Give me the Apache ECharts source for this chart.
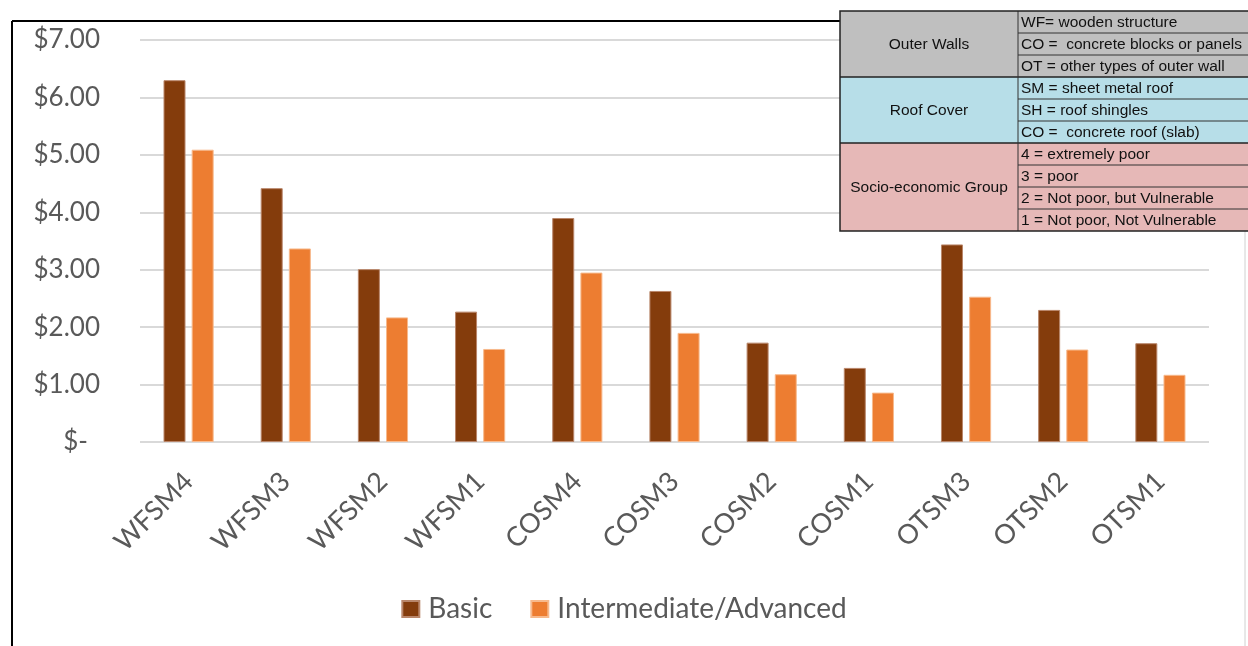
<!DOCTYPE html>
<html>
<head>
<meta charset="utf-8">
<script src="https://cdn.jsdelivr.net/npm/echarts@6/dist/echarts.min.js"></script>
<style>
  html, body { margin: 0; padding: 0; background: #ffffff; }
  #chart { width: 1248px; height: 646px; }
</style>
</head>
<body>
<div id="chart"></div>
<script>
// Categories: outer wall + roof cover + socio-economic group
const categories = ['WFSM4', 'WFSM3', 'WFSM2', 'WFSM1', 'COSM4', 'COSM3', 'COSM2', 'COSM1', 'OTSM3', 'OTSM2', 'OTSM1'];
const basicCost = [6.30, 4.42, 3.01, 2.27, 3.90, 2.63, 1.73, 1.29, 3.44, 2.30, 1.72];
const advancedCost = [5.09, 3.37, 2.17, 1.62, 2.95, 1.90, 1.18, 0.86, 2.53, 1.61, 1.17];
const seriesNames = ['Basic', 'Intermediate/Advanced'];

// Code key table
const keyGroups = ['Outer Walls', 'Roof Cover', 'Socio-economic Group'];
const keyGroupRows = [3, 3, 4];
const keyGroupColors = ['#BFBFBF', '#B7DEE8', '#E6B8B7'];
const keyEntries = [
  'WF= wooden structure',
  'CO =  concrete blocks or panels',
  'OT = other types of outer wall',
  'SM = sheet metal roof',
  'SH = roof shingles',
  'CO =  concrete roof (slab)',
  '4 = extremely poor',
  '3 = poor',
  '2 = Not poor, but Vulnerable',
  '1 = Not poor, Not Vulnerable'
];

const chart = echarts.init(document.getElementById('chart'));
const FONT = 'Lato, "Open Sans", sans-serif';
const GREY = '#595959';
const TABLE_FONT = '15.5px "Liberation Sans", Arial, sans-serif';

// Build key table graphics
function buildKeyTable() {
  const x0 = 840, xMid = 1018, x1 = 1262, y0 = 11, rowH = 22;
  const els = [];
  let row = 0;
  keyGroups.forEach((g, gi) => {
    const n = keyGroupRows[gi];
    const top = y0 + row * rowH;
    els.push({
      type: 'rect', z: 100,
      shape: { x: x0, y: top, width: x1 - x0, height: n * rowH },
      style: { fill: keyGroupColors[gi], stroke: null }
    });
    els.push({
      type: 'text', z: 102,
      x: (x0 + xMid) / 2, y: top + n * rowH / 2 + 1,
      style: { text: g, fill: '#111', font: TABLE_FONT, align: 'center', verticalAlign: 'middle' }
    });
    for (let i = 0; i < n; i++) {
      const ry = top + i * rowH;
      els.push({
        type: 'text', z: 102,
        x: xMid + 3, y: ry + rowH / 2 + 1,
        style: { text: keyEntries[row + i], fill: '#111', font: TABLE_FONT, align: 'left', verticalAlign: 'middle' }
      });
      if (i > 0) {
        els.push({
          type: 'line', z: 101,
          shape: { x1: xMid, y1: ry, x2: x1, y2: ry },
          style: { stroke: '#333', lineWidth: 1 }
        });
      }
    }
    if (gi > 0) {
      els.push({
        type: 'line', z: 101,
        shape: { x1: x0, y1: top, x2: x1, y2: top },
        style: { stroke: '#222', lineWidth: 1.5 }
      });
    }
    row += n;
  });
  const totalH = row * rowH;
  els.push({
    type: 'line', z: 101,
    shape: { x1: xMid, y1: y0, x2: xMid, y2: y0 + totalH },
    style: { stroke: '#333', lineWidth: 1 }
  });
  els.push({
    type: 'rect', z: 103,
    shape: { x: x0, y: y0, width: x1 - x0, height: totalH },
    style: { fill: null, stroke: '#222', lineWidth: 1.5 }
  });
  return els;
}

// Frame around the chart area
const frame = [
  { type: 'line', z: 90, shape: { x1: 12, y1: 21, x2: 12, y2: 660 }, style: { stroke: '#000', lineWidth: 2 } },
  { type: 'line', z: 90, shape: { x1: 12, y1: 21, x2: 842, y2: 21 }, style: { stroke: '#000', lineWidth: 2 } },
  { type: 'line', z: 90, shape: { x1: 1245, y1: 21, x2: 1245, y2: 660 }, style: { stroke: '#D0D0D0', lineWidth: 1 } }
];

const option = {
  backgroundColor: '#ffffff',
  animation: false,
  grid: { left: 140, right: 39, top: 40, bottom: 204, containLabel: false },
  legend: {
    data: seriesNames,
    bottom: 18,
    left: 'center',
    icon: 'rect',
    itemWidth: 17,
    itemHeight: 16,
    itemGap: 38,
    textStyle: { fontFamily: FONT, fontSize: 28, color: GREY, padding: [0, 0, 0, 4] }
  },
  xAxis: {
    type: 'category',
    data: categories,
    axisLine: { show: false },
    axisTick: { show: false },
    axisLabel: {
      rotate: 45,
      margin: 35,
      fontFamily: FONT,
      fontSize: 27,
      color: GREY,
      interval: 0
    }
  },
  yAxis: {
    type: 'value',
    min: 0,
    max: 7,
    interval: 1,
    axisLine: { show: false },
    axisTick: { show: false },
    splitLine: { lineStyle: { color: '#D9D9D9', width: 2 } },
    axisLabel: {
      margin: 40,
      fontFamily: FONT,
      fontSize: 26,
      color: GREY,
      formatter: v => v === 0 ? '{z|$-}' : '$' + v.toFixed(2),
      rich: { z: { fontFamily: FONT, fontSize: 26, color: GREY, padding: [0, 12, 0, 0] } }
    }
  },
  series: [
    {
      name: seriesNames[0],
      type: 'bar',
      data: basicCost,
      barWidth: 22,
      barGap: '28%',
      itemStyle: { color: '#843C0C', borderColor: '#B9866A', borderWidth: 1 }
    },
    {
      name: seriesNames[1],
      type: 'bar',
      data: advancedCost,
      barWidth: 22,
      itemStyle: { color: '#ED7D31', borderColor: '#F7B98C', borderWidth: 1 }
    }
  ],
  graphic: frame.concat(buildKeyTable())
};

chart.setOption(option);
</script>
</body>
</html>
